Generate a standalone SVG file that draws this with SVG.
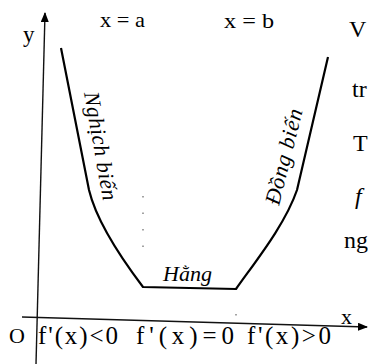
<svg xmlns="http://www.w3.org/2000/svg" width="368" height="364" viewBox="0 0 368 364">
<style>
.ax{stroke:#111;stroke-width:1.4;fill:none}
.cv{stroke:#000;stroke-width:2.2;fill:none;stroke-linejoin:round}
.gd{stroke:#666;stroke-width:1.2;fill:none;stroke-dasharray:1.5 15}
.t{font-family:"Liberation Serif","Times New Roman",serif;fill:#000}
.i{font-style:italic}
</style>
<defs>
<marker id="arr" viewBox="0 0 10 8" refX="9" refY="4" markerWidth="10" markerHeight="8" markerUnits="userSpaceOnUse" orient="auto">
<path d="M0,0 L10,4 L0,8 Z" fill="#000"/>
</marker>
</defs>
<rect width="368" height="364" fill="#fff"/>
<g id="axes">
<line class="ax" x1="36" y1="364" x2="45" y2="13" marker-end="url(#arr)"/>
<line class="ax" x1="22" y1="317" x2="367" y2="327" marker-end="url(#arr)"/>
<line class="gd" x1="143" y1="196" x2="143" y2="262"/>
<line class="gd" x1="236" y1="314" x2="236" y2="317"/>
</g>
<g id="curve">
<path class="cv" d="M61,48 L89,190 C95,215 115,250 143,287 L236,289 C255,262 285,225 297,190 L328,57"/>
</g>
<g id="labels">
<text class="t" x="23" y="42" font-size="23">y</text>
<text class="t" x="100" y="27" font-size="22" textLength="45" lengthAdjust="spacingAndGlyphs">x = a</text>
<text class="t" x="224" y="28" font-size="22" textLength="50" lengthAdjust="spacingAndGlyphs">x = b</text>
<text class="t i" font-size="22" textLength="110" lengthAdjust="spacing" transform="translate(84,93) rotate(80)">Nghịch biến</text>
<text class="t i" font-size="22" textLength="98" lengthAdjust="spacing" transform="translate(279,206) rotate(-76)">Đồng biến</text>
<text class="t i" x="163" y="281" font-size="22" textLength="49" lengthAdjust="spacingAndGlyphs">Hằng</text>
<text class="t" x="341" y="324" font-size="22">x</text>
<text class="t" x="9" y="343" font-size="22">O</text>
<text class="t" x="38" y="344" font-size="25" textLength="80" lengthAdjust="spacing">f'(x)&lt;0</text>
<text class="t" x="136" y="344" font-size="25" textLength="98" lengthAdjust="spacing">f'(x)=0</text>
<text class="t" x="247" y="344" font-size="25" textLength="84" lengthAdjust="spacing">f'(x)&gt;0</text>
</g>
<g id="page-text">
<text class="t" x="349" y="37" font-size="24">V</text>
<text class="t" x="352" y="97" font-size="24">tr</text>
<text class="t" x="353" y="151" font-size="24">T</text>
<text class="t i" x="355" y="204" font-size="24">f</text>
<text class="t" x="344" y="248" font-size="24">ng</text>
</g>
</svg>
